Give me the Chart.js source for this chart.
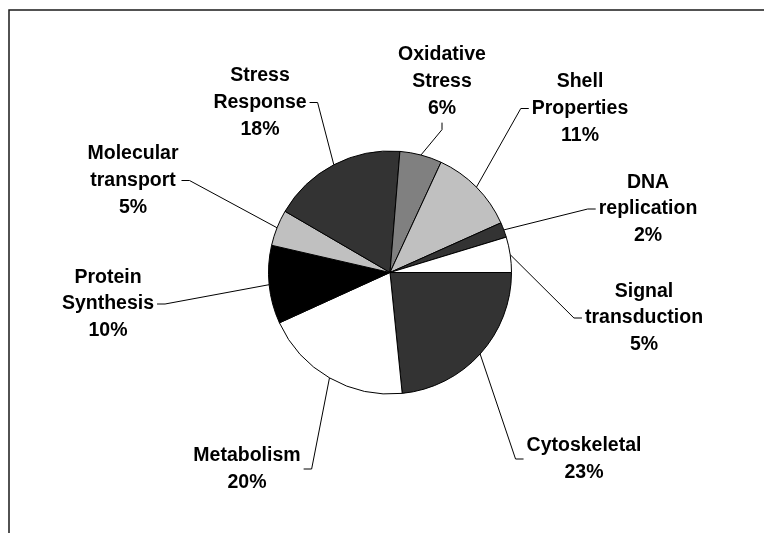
<!DOCTYPE html>
<html>
<head>
<meta charset="utf-8">
<script src="https://cdn.jsdelivr.net/npm/chart.js@4/dist/chart.umd.min.js"></script>
<style>
  html, body { margin: 0; padding: 0; background: #fff; }
  #wrap { width: 764px; height: 533px; }
</style>
</head>
<body>
<div id="wrap"><canvas id="pieChart" width="764" height="533"></canvas></div>
<script>
// slice order, clockwise from 3 o'clock
const categories = ["Cytoskeletal", "Metabolism", "Protein Synthesis", "Molecular transport",
  "Stress Response", "Oxidative Stress", "Shell Properties", "DNA replication", "Signal transduction"];
const shares = [23.4, 19.8, 10.4, 4.8, 17.9, 5.6, 11.4, 2.0, 4.7];
const sliceColors = ["#333333", "#ffffff", "#000000", "#c0c0c0", "#333333",
  "#808080", "#c0c0c0", "#333333", "#ffffff"];

// where each label block sits, relative to the pie centre, and which side the leader meets
const labelPlacement = [
  { dx: 194, dy: 186.5, side: "left" },
  { dx: -143, dy: 196.5, side: "right" },
  { dx: -282, dy: 31.5, side: "right" },
  { dx: -257, dy: -92, side: "right" },
  { dx: -130, dy: -170, side: "right" },
  { dx: 52, dy: -191, side: "bottom" },
  { dx: 190, dy: -164, side: "left" },
  { dx: 258, dy: -63.5, side: "left" },
  { dx: 254, dy: 45.5, side: "left" }
];

const LINE_GAP = 26.75;
const LABEL_FONT = "bold 19.5px 'Liberation Sans', Arial, sans-serif";

const frameAndBackground = {
  id: "frameAndBackground",
  beforeDraw(chart) {
    const ctx = chart.ctx;
    ctx.save();
    ctx.fillStyle = "#fff";
    ctx.fillRect(0, 0, chart.width, chart.height);
    ctx.strokeStyle = "#1a1a1a";
    ctx.lineWidth = 1.5;
    ctx.beginPath();
    ctx.moveTo(9, chart.height + 5);
    ctx.lineTo(9, 10);
    ctx.lineTo(chart.width + 5, 10);
    ctx.stroke();
    ctx.restore();
  }
};

const leaderLabels = {
  id: "leaderLabels",
  afterDatasetsDraw(chart) {
    const ctx = chart.ctx;
    const meta = chart.getDatasetMeta(0);
    const values = chart.data.datasets[0].data;
    const total = values.reduce((sum, v) => sum + v, 0);

    ctx.save();
    ctx.font = LABEL_FONT;
    ctx.fillStyle = "#000";
    ctx.strokeStyle = "#000";
    ctx.lineWidth = 1;
    ctx.textAlign = "center";
    ctx.textBaseline = "middle";

    meta.data.forEach((arc, i) => {
      const p = arc.getProps(["x", "y", "startAngle", "endAngle", "outerRadius"], true);
      const mid = (p.startAngle + p.endAngle) / 2;
      const edgeX = p.x + Math.cos(mid) * p.outerRadius;
      const edgeY = p.y + Math.sin(mid) * p.outerRadius;

      const lines = chart.data.labels[i].split(" ");
      lines.push(Math.round(values[i] / total * 100) + "%");

      const place = labelPlacement[i];
      const cx = p.x + place.dx;
      const cy = p.y + place.dy;
      const blockW = Math.max(...lines.map(t => ctx.measureText(t).width));
      const blockH = lines.length * LINE_GAP;

      let ax, ay, bx, by;
      if (place.side === "left") {
        ax = cx - blockW / 2 - 3; ay = cy; bx = ax - 8; by = ay;
      } else if (place.side === "right") {
        ax = cx + blockW / 2 + 3; ay = cy; bx = ax + 8; by = ay;
      } else {
        ax = cx; ay = cy + blockH / 2 + 1; bx = ax; by = ay + 7;
      }

      ctx.beginPath();
      ctx.moveTo(edgeX, edgeY);
      ctx.lineTo(bx, by);
      ctx.lineTo(ax, ay);
      ctx.stroke();

      lines.forEach((t, k) => {
        ctx.fillText(t, cx, cy + (k - (lines.length - 1) / 2) * LINE_GAP);
      });
    });
    ctx.restore();
  }
};

new Chart(document.getElementById("pieChart"), {
  type: "pie",
  data: {
    labels: categories,
    datasets: [{
      data: shares,
      backgroundColor: sliceColors,
      borderColor: "#000",
      borderWidth: 1
    }]
  },
  options: {
    responsive: false,
    animation: false,
    rotation: 90,
    layout: { padding: { left: 268, right: 252, top: 150, bottom: 138 } },
    plugins: {
      legend: { display: false },
      tooltip: { enabled: false }
    }
  },
  plugins: [frameAndBackground, leaderLabels]
});
</script>
</body>
</html>
